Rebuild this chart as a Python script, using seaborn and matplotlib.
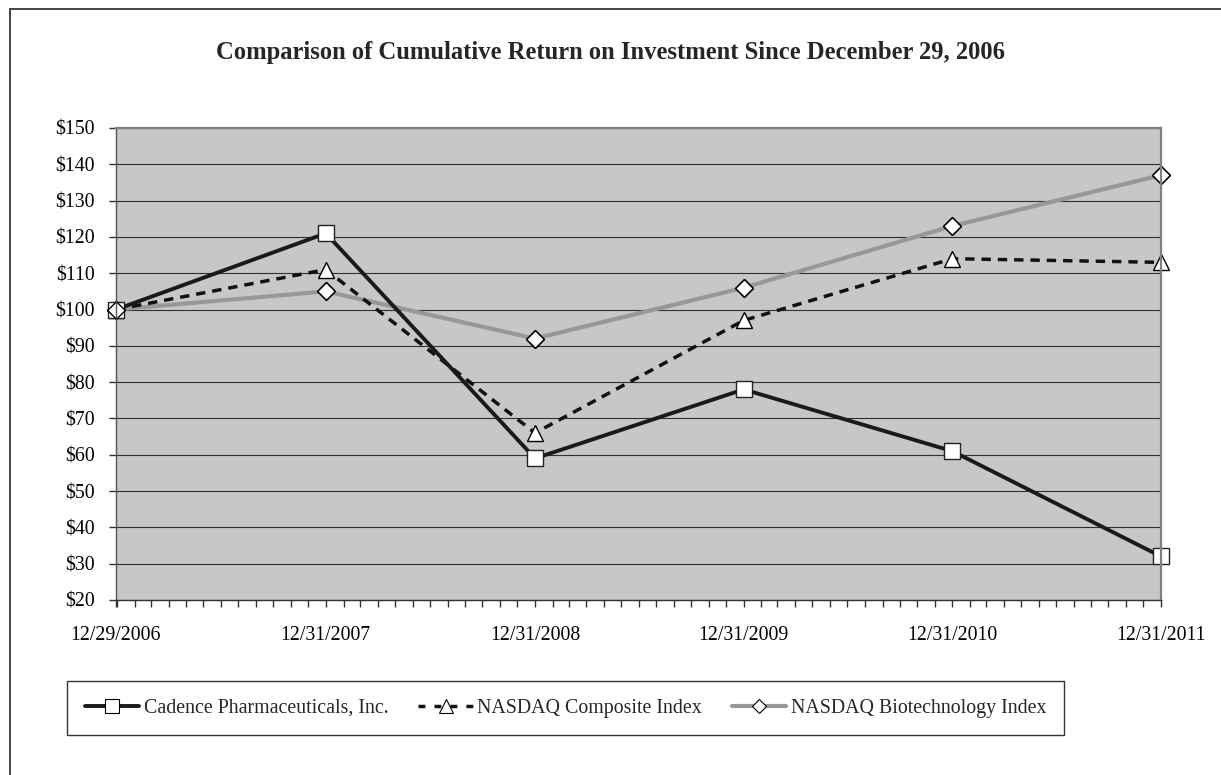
import matplotlib
matplotlib.use("Agg")
import matplotlib.pyplot as plt
import matplotlib.dates as mdates
from matplotlib.lines import Line2D
import seaborn as sns
import pandas as pd

# ---- data ----
dates = ["2006-12-29", "2007-12-31", "2008-12-31", "2009-12-31", "2010-12-31", "2011-12-31"]
x_labels = ["12/29/2006", "12/31/2007", "12/31/2008", "12/31/2009", "12/31/2010", "12/31/2011"]
cadence = [100, 121, 59, 78, 61, 32]
nasdaq_comp = [100, 111, 66, 97, 114, 113]
nasdaq_bio = [100, 105, 92, 106, 123, 137]
series_names = ["Cadence Pharmaceuticals, Inc.", "NASDAQ Composite Index", "NASDAQ Biotechnology Index"]
y_ticks = list(range(20, 151, 10))
y_tick_labels = ["$%d" % v for v in y_ticks]
title = "Comparison of Cumulative Return on Investment Since December 29, 2006"

sns.set_theme(style="white")
plt.rcParams["font.family"] = ["Liberation Serif", "DejaVu Serif"]

FS = 14.3

dt = pd.to_datetime(dates)
df = pd.DataFrame({"date": dt, "cad": cadence, "comp": nasdaq_comp, "bio": nasdaq_bio})

fig = plt.figure(figsize=(12.21, 7.75), dpi=100)
fig.patch.set_facecolor("white")
ax = fig.add_axes([116 / 1221, 1 - 600 / 775, (1161 - 116) / 1221, (600 - 128) / 775])
ax.set_facecolor("#c6c7c9")

# figure frame (top and left)
fig.add_artist(Line2D([10 / 1221, 1.0], [1 - 9 / 775, 1 - 9 / 775], transform=fig.transFigure,
                      color="#444444", lw=1.4))
fig.add_artist(Line2D([10 / 1221, 10 / 1221], [0.0, 1 - 9 / 775], transform=fig.transFigure,
                      color="#444444", lw=1.4))

gray = "#989898"
sns.lineplot(data=df, x="date", y="bio", ax=ax, color=gray, lw=3.0, marker="D",
             markersize=9, markerfacecolor="white", markeredgecolor="black",
             markeredgewidth=1.0, zorder=2.1, label=series_names[2], clip_on=False)
sns.lineplot(data=df, x="date", y="comp", ax=ax, color="#111111", lw=2.5,
             linestyle=(0, (2.7, 2.0)), marker="^", markersize=12,
             markerfacecolor="white", markeredgecolor="black", markeredgewidth=1.0,
             zorder=2.2, label=series_names[1], clip_on=False)
sns.lineplot(data=df, x="date", y="cad", ax=ax, color="#1a1a1a", lw=2.8, marker="s",
             markersize=12, markerfacecolor="white", markeredgecolor="#222222",
             markeredgewidth=1.0, zorder=2.3, label=series_names[0], clip_on=False)
# diamonds drawn on top at shared start point
sns.scatterplot(data=df, x="date", y="bio", ax=ax, marker="D", s=80, color="white",
                edgecolor="black", linewidth=1.0, zorder=2.45, legend=False, clip_on=False)

ax.set_xlim(dt[0], dt[-1])
ax.set_ylim(20, 150)
ax.set_yticks(y_ticks)
ax.set_yticklabels(y_tick_labels)
ax.set_xticks(dt)
ax.set_xticklabels(x_labels)
ax.xaxis.set_minor_locator(mdates.RRuleLocator(mdates.rrulewrapper(mdates.MONTHLY, bymonthday=-1)))
ax.set_xlabel("")
ax.set_ylabel("")

ax.grid(axis="y", color="#303030", lw=0.8)
ax.grid(axis="x", visible=False)
ax.set_axisbelow(True)

for side in ["top", "right"]:
    ax.spines[side].set_color("#808080")
    ax.spines[side].set_linewidth(1.6)
ax.spines["left"].set_color("#555555")
ax.spines["left"].set_linewidth(1.0)
ax.spines["bottom"].set_color("#333333")
ax.spines["bottom"].set_linewidth(1.0)

ax.tick_params(axis="y", which="major", direction="out", length=5, width=1.0, color="#333333",
               labelsize=FS, pad=10.5, left=True)
ax.tick_params(axis="x", which="both", direction="out", length=5, width=1.0, color="#333333",
               labelsize=FS, pad=13.5, bottom=True)
for lab in ax.get_xticklabels() + ax.get_yticklabels():
    lab.set_color("black")

fig.text(0.5, 1 - 52 / 775, title, ha="center", va="center", fontsize=17.7, fontweight="bold")

ax.get_legend().remove()
handles = [ax.lines[2], ax.lines[1], ax.lines[0]]
h_objs = []
for h in handles:
    h_objs.append(Line2D([], [], color=h.get_color(), lw=h.get_linewidth(), linestyle=h.get_linestyle(),
                         marker=h.get_marker(), markersize=h.get_markersize() * 0.8,
                         markerfacecolor="white", markeredgecolor="black", markeredgewidth=0.8))
h_objs[1].set_dashes((2.0, 2.6))
leg = fig.legend(h_objs, series_names, loc="center left", bbox_to_anchor=(67 / 1221, 1 - 708 / 775),
                 ncol=3, fontsize=FS, frameon=True, fancybox=False, borderaxespad=0,
                 borderpad=0.9, handlelength=2.75, handletextpad=0.22, columnspacing=1.5)
leg.get_frame().set_edgecolor("black")
leg.get_frame().set_linewidth(1.0)

fig.savefig("out.png", dpi=100)
